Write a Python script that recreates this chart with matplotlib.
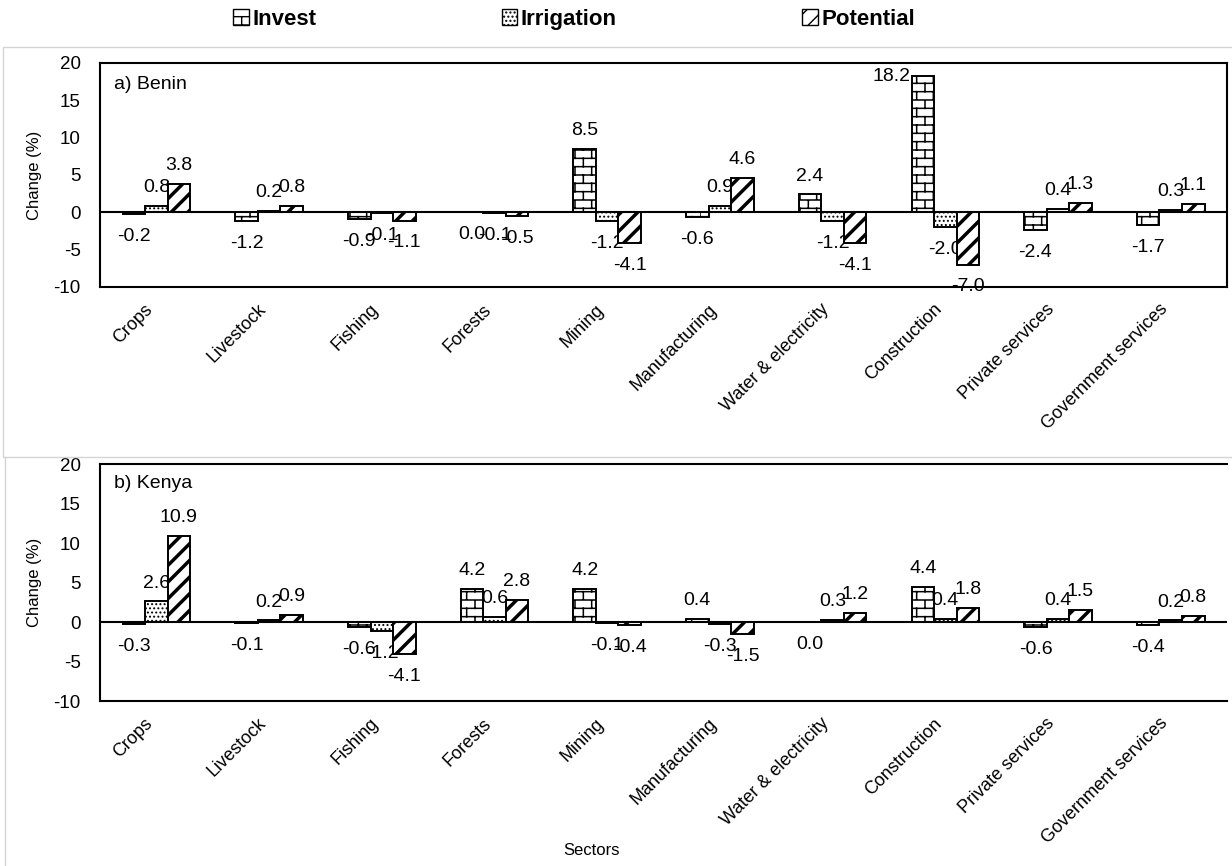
import numpy as np
import matplotlib
matplotlib.use('Agg')
import matplotlib.pyplot as plt
import matplotlib.hatch as mhatch
from matplotlib.path import Path
from matplotlib.patches import Patch, Rectangle
from matplotlib.lines import Line2D

sectors = ['Crops', 'Livestock', 'Fishing', 'Forests', 'Mining', 'Manufacturing',
           'Water & electricity', 'Construction', 'Private services', 'Government services']
series = ['Invest', 'Irrigation', 'Potential']

# a) Benin
benin_invest = [-0.2, -1.2, -0.9, 0.0, 8.5, -0.6, 2.4, 18.2, -2.4, -1.7]
benin_irrigation = [0.8, 0.2, -0.1, -0.1, -1.2, 0.9, -1.2, -2.0, 0.4, 0.3]
benin_potential = [3.8, 0.8, -1.1, -0.5, -4.1, 4.6, -4.1, -7.0, 1.3, 1.1]

# b) Kenya
kenya_invest = [-0.3, -0.1, -0.6, 4.2, 4.2, 0.4, 0.0, 4.4, -0.6, -0.4]
kenya_irrigation = [2.6, 0.2, -1.2, 0.6, -0.1, -0.3, 0.3, 0.4, 0.4, 0.2]
kenya_potential = [10.9, 0.9, -4.1, 2.8, -0.4, -1.5, 1.2, 1.8, 1.5, 0.8]


class BrickHatch(mhatch.HatchPatternBase):
    """Brick wall pattern, selected with the letter 'b' in a hatch string."""

    def __init__(self, hatch, density):
        self.n = hatch.count('b') * density
        if self.n % 2:
            self.n += 1
        self.num_vertices = 0 if self.n == 0 else 2 * (self.n + 1) + 2 * self.n * (self.n // 2)

    def set_vertices_and_codes(self, vertices, codes):
        n = self.n
        pts = []
        for i in range(n + 1):
            pts += [(0, i / n), (1, i / n)]
        for r in range(n):
            off = (r % 2) / n
            for k in range(n // 2):
                x = off + 2 * k / n
                pts += [(x, r / n), (x, (r + 1) / n)]
        vertices[:] = pts
        codes[0::2] = Path.MOVETO
        codes[1::2] = Path.LINETO


mhatch._hatch_types.append(BrickHatch)

plt.rcParams['font.family'] = ['Liberation Sans', 'DejaVu Sans']
plt.rcParams['hatch.color'] = 'black'
plt.rcParams['axes.unicode_minus'] = False

hatches = {'Invest': 'bb', 'Irrigation': '....', 'Potential': '//'}
hatch_lw = {'Invest': 1.1, 'Irrigation': 0.9, 'Potential': 2.5}


def draw_panel(ax, values, title, title_y):
    x = np.arange(len(sectors))
    w = 0.2
    ymax = 20
    for i, (name, vals) in enumerate(zip(series, values)):
        with plt.rc_context({'hatch.linewidth': hatch_lw[name]}):
            bars = ax.bar(x + (i - 1) * w, vals, w, facecolor='white', edgecolor='black',
                          linewidth=1.4, hatch=hatches[name], zorder=3)
        for b, v in zip(bars, vals):
            cx = b.get_x() + b.get_width() / 2
            if v > ymax - 3:
                # no room above: put the label beside the bar, like the spreadsheet does
                ax.annotate(f'{v:.1f}', (b.get_x(), v), xytext=(-1, 0), textcoords='offset points',
                            ha='right', va='center', fontsize=14, zorder=2)
            elif v > 0:
                ax.annotate(f'{v:.1f}', (cx, v), xytext=(0, 10), textcoords='offset points',
                            ha='center', va='baseline', fontsize=14, zorder=2)
            else:
                ax.annotate(f'{v:.1f}', (cx, v), xytext=(0, -10), textcoords='offset points',
                            ha='center', va='top', fontsize=14, zorder=2)

    ax.axhline(0, color='black', linewidth=1.5, zorder=4)
    ax.set_xlim(-0.5, len(sectors) - 0.5)
    ax.set_ylim(-10, ymax)
    ax.set_yticks(range(-10, 21, 5))
    ax.set_xticks(x)
    ax.set_xticklabels(sectors, rotation=45, ha='right', fontsize=13)
    ax.tick_params(axis='both', length=0)
    ax.tick_params(axis='y', pad=14, labelsize=13.5)
    ax.tick_params(axis='x', pad=10)
    for s in ax.spines.values():
        s.set_linewidth(1.5)
    ax.set_ylabel('Change (%)', fontsize=12, labelpad=8)
    ax.text(0.012, title_y, title, transform=ax.transAxes, ha='left', va='top', fontsize=14)


fig = plt.figure(figsize=(12.32, 8.66), dpi=100)
ax1 = fig.add_axes([0.0812, 0.6686, 0.9148, 0.2587])
ax2 = fig.add_axes([0.0812, 0.1905, 0.9148, 0.2737])

draw_panel(ax1, [benin_invest, benin_irrigation, benin_potential], 'a) Benin', 0.94)
draw_panel(ax2, [kenya_invest, kenya_irrigation, kenya_potential], 'b) Kenya', 0.955)
ax2.spines['right'].set_visible(False)

fig.text(0.48, 0.018, 'Sectors', ha='center', va='center', fontsize=12)

# light panel frames
fig.add_artist(Rectangle((3 / 1232, 1 - 457 / 866), 1.1, (457 - 47) / 866, transform=fig.transFigure,
                         fill=False, edgecolor='#d4d4d4', linewidth=1))
fig.add_artist(Line2D([5 / 1232, 5 / 1232], [0, 1 - 458 / 866], transform=fig.transFigure,
                      color='#d4d4d4', linewidth=1))

handles = []
for name in series:
    with plt.rc_context({'hatch.linewidth': hatch_lw[name]}):
        handles.append(Patch(facecolor='white', edgecolor='black', hatch=hatches[name], label=name))
fig.legend(handles=handles, loc='center', bbox_to_anchor=(0.466, 0.978), ncol=3, frameon=False,
           handlelength=0.7, handleheight=0.7, handletextpad=0.15, columnspacing=8.36,
           prop={'family': ['Liberation Sans Narrow', 'Liberation Sans'], 'weight': 'bold', 'size': 16})

fig.savefig('out.png', dpi=100)
